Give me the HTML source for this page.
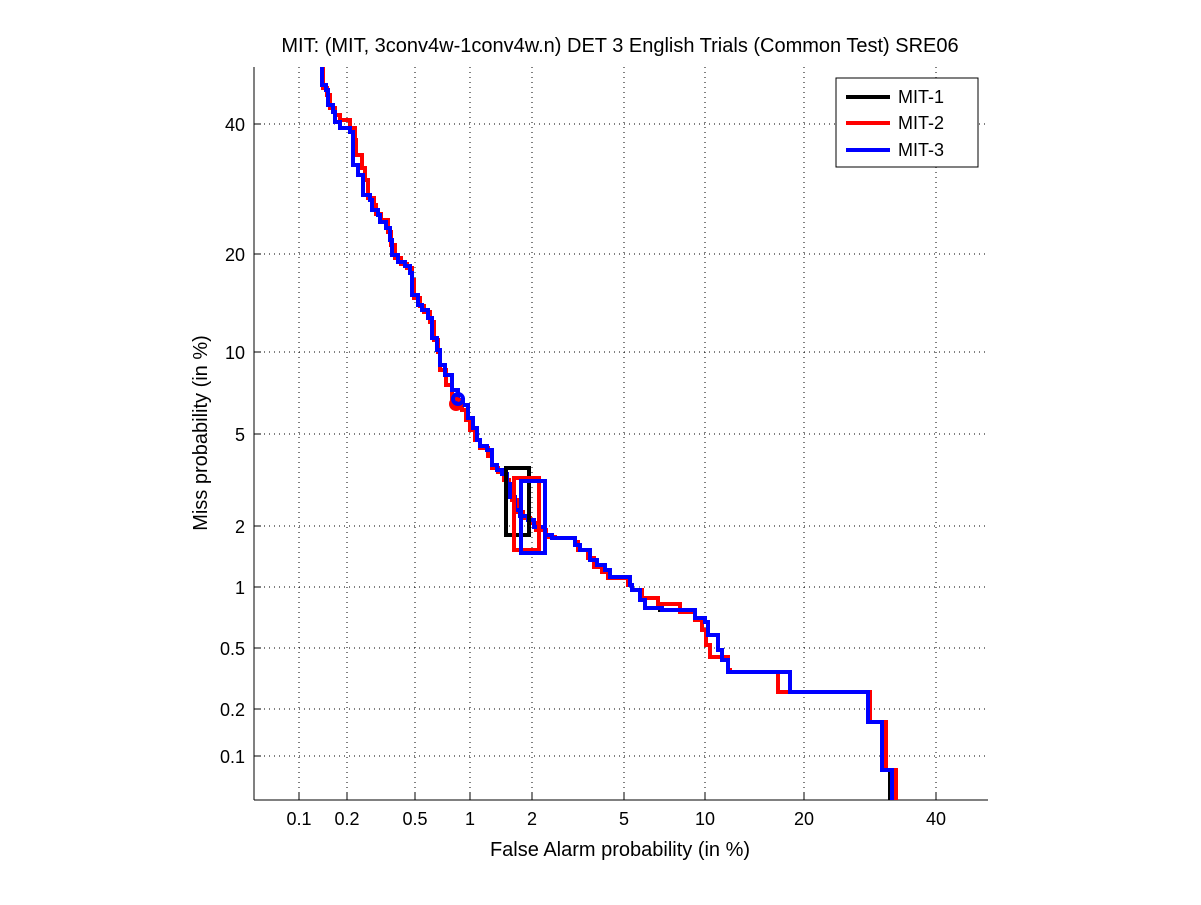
<!DOCTYPE html>
<html><head><meta charset="utf-8"><style>body{margin:0;background:#fff}</style></head><body>
<svg width="1201" height="900" xmlns="http://www.w3.org/2000/svg" font-family="Liberation Sans, sans-serif">
<rect width="1201" height="900" fill="#fff"/>
<g stroke="#000" stroke-width="1" stroke-dasharray="1,4">
<line x1="299" y1="67" x2="299" y2="800"/><line x1="347" y1="67" x2="347" y2="800"/><line x1="415" y1="67" x2="415" y2="800"/><line x1="470" y1="67" x2="470" y2="800"/><line x1="532" y1="67" x2="532" y2="800"/><line x1="624" y1="67" x2="624" y2="800"/><line x1="705" y1="67" x2="705" y2="800"/><line x1="804" y1="67" x2="804" y2="800"/><line x1="936" y1="67" x2="936" y2="800"/>
<line x1="254" y1="124" x2="988" y2="124"/><line x1="254" y1="254" x2="988" y2="254"/><line x1="254" y1="352" x2="988" y2="352"/><line x1="254" y1="434" x2="988" y2="434"/><line x1="254" y1="526" x2="988" y2="526"/><line x1="254" y1="587" x2="988" y2="587"/><line x1="254" y1="648" x2="988" y2="648"/><line x1="254" y1="709" x2="988" y2="709"/><line x1="254" y1="756" x2="988" y2="756"/>
</g>
<g stroke="#000" stroke-width="1">
<line x1="254" y1="67" x2="254" y2="800"/><line x1="254" y1="800" x2="988" y2="800"/>
<path d="M299 800v-7M347 800v-7M415 800v-7M470 800v-7M532 800v-7M624 800v-7M705 800v-7M804 800v-7M936 800v-7M254 124h7M254 254h7M254 352h7M254 434h7M254 526h7M254 587h7M254 648h7M254 709h7M254 756h7"/>
</g>
<g font-size="18" text-anchor="middle">
<text x="299" y="825">0.1</text><text x="347" y="825">0.2</text><text x="415" y="825">0.5</text><text x="470" y="825">1</text><text x="532" y="825">2</text><text x="624" y="825">5</text><text x="705" y="825">10</text><text x="804" y="825">20</text><text x="936" y="825">40</text>
</g>
<g font-size="18" text-anchor="end">
<text x="245" y="131">40</text><text x="245" y="261">20</text><text x="245" y="359">10</text><text x="245" y="441">5</text><text x="245" y="533">2</text><text x="245" y="594">1</text><text x="245" y="655">0.5</text><text x="245" y="716">0.2</text><text x="245" y="763">0.1</text>
</g>
<text x="620" y="52" font-size="20" text-anchor="middle">MIT: (MIT, 3conv4w-1conv4w.n) DET 3 English Trials (Common Test) SRE06</text>
<text x="620" y="856" font-size="20" text-anchor="middle">False Alarm probability (in %)</text>
<text transform="translate(207,433) rotate(-90)" font-size="20" text-anchor="middle">Miss probability (in %)</text>
<g fill="none" stroke-width="4">
<path stroke="#000" d="M322 67V85H326V90H328V105H333V112H335V122H340V128H350V132H353V165H358V175H363V195H370V200H372V210H378V215H380V222H386V228H390V240H392V255H398V262H405V266H410V273H412V295H418V305H422V310H428V318H432V338H437V350H440V365H445V375H452V390H458V400H463V405H468V418H473V428H477V440H480V446H487V450H492V465H497V470H502V474H507V484H510V497H515V510H520V516H528V520H534V527H545V535H552V538H575V545H580V550H590V560H597V565H605V570H610V577H630V585H632V590H640V600H645V608H660V610H695V618H705V622H708V635H718V650H722V660H728V672H790V692H870V722H884V770H890V800"/>
<path stroke="#f00" d="M323 67V88H327V95H330V108H335V115H340V120H350V128H355V140H356V155H362V168H365V180H368V198H374V205H376V214H381V220H388V232H391V245H395V258H401V264H407V268H412V280H414V298H420V306H424V312H430V322H434V340H438V352H440V370H446V385H452V405H462V410H466V420H470V430H475V440H480V448H488V456H492V468H498V472H504V480H509V488H512V500H517V512H523V518H530V523H536V530H546V537H555V538H575V542H578V550H588V558H594V567H602V572H608V578H628V585H632V590H642V598H658V604H680V612H695V620H702V630H706V645H710V657H728V670H730V672H778V692H870V722H886V770H896V800"/>
<path stroke="#00f" d="M322 67V85H326V90H328V105H333V112H335V122H340V128H350V132H353V165H358V175H363V195H370V200H372V210H378V215H380V222H386V228H390V240H392V255H398V262H405V266H410V273H412V295H418V305H422V310H428V318H432V338H437V350H440V365H445V375H452V390H458V400H463V405H468V418H473V428H477V440H480V446H487V450H492V465H497V470H502V474H507V484H510V497H515V510H520V516H528V520H534V527H545V535H552V538H575V545H580V550H590V560H597V565H605V570H610V577H630V585H632V590H640V600H645V608H662V610H695V618H705V622H708V635H718V650H722V660H728V672H790V692H868V722H882V770H892V800"/>
<rect stroke="#000" x="506" y="468" width="23" height="67"/>
<rect stroke="#f00" x="514" y="478" width="25" height="72"/>
<rect stroke="#00f" x="521" y="481" width="24" height="72"/>
<circle stroke="#f00" cx="456" cy="404" r="5"/>
<circle stroke="#00f" cx="458" cy="399" r="5"/>
</g>
<rect x="836" y="78" width="142" height="89" fill="#fff" stroke="#000"/>
<g stroke-width="4"><line x1="846" y1="97" x2="890" y2="97" stroke="#000"/><line x1="846" y1="123" x2="890" y2="123" stroke="#f00"/><line x1="846" y1="150" x2="890" y2="150" stroke="#00f"/></g>
<g font-size="18"><text x="898" y="103">MIT-1</text><text x="898" y="129">MIT-2</text><text x="898" y="156">MIT-3</text></g>
</svg>
</body></html>
